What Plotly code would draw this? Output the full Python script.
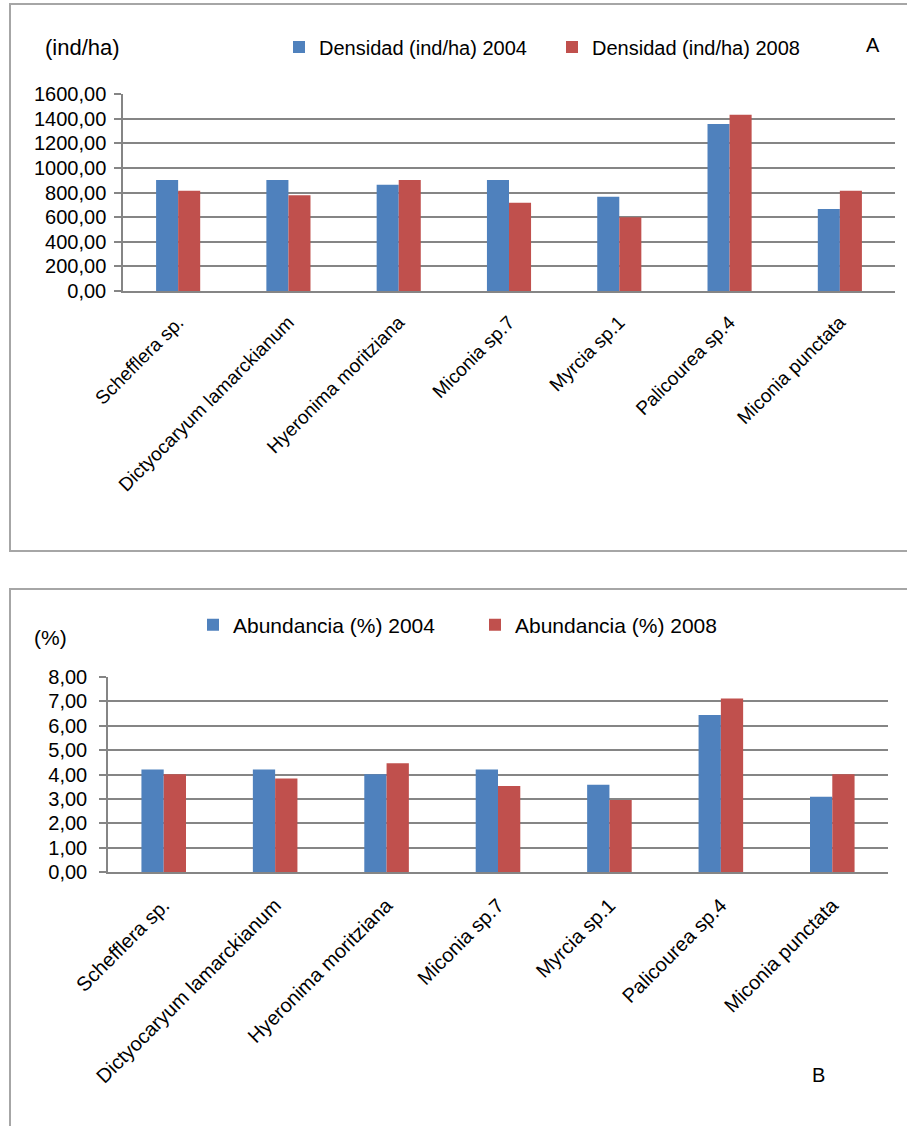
import plotly.graph_objects as go

species = ["Schefflera sp.", "Dictyocaryum lamarckianum", "Hyeronima moritziana",
           "Miconia sp.7", "Myrcia sp.1", "Palicourea sp.4", "Miconia punctata"]
dens_2004 = [901, 901, 863, 901, 766, 1356, 666]
dens_2008 = [815, 777, 901, 717, 598, 1432, 815]
abund_2004 = [4.21, 4.21, 4.01, 4.21, 3.58, 6.44, 3.09]
abund_2008 = [4.01, 3.84, 4.46, 3.53, 2.95, 7.12, 4.01]

BLUE = "#4F81BD"
RED = "#C0504D"
GRID = "#858585"
FONT = "Liberation Sans"
TXT = "#000000"
W, H = 907, 1126

def px_x(x):
    return x / W

def px_y(y):
    return 1 - y / H

fig = go.Figure()
fig.add_trace(go.Bar(x=species, y=dens_2004, name="Densidad (ind/ha) 2004",
                     marker=dict(color=BLUE, line=dict(width=0)), xaxis="x", yaxis="y", legend="legend"))
fig.add_trace(go.Bar(x=species, y=dens_2008, name="Densidad (ind/ha) 2008",
                     marker=dict(color=RED, line=dict(width=0)), xaxis="x", yaxis="y", legend="legend"))
fig.add_trace(go.Bar(x=species, y=abund_2004, name="Abundancia (%) 2004",
                     marker=dict(color=BLUE, line=dict(width=0)), xaxis="x2", yaxis="y2", legend="legend2"))
fig.add_trace(go.Bar(x=species, y=abund_2008, name="Abundancia (%) 2008",
                     marker=dict(color=RED, line=dict(width=0)), xaxis="x2", yaxis="y2", legend="legend2"))

common_y = dict(showgrid=True, gridcolor=GRID, gridwidth=1.5, showline=True, linecolor=GRID,
                linewidth=1.5, ticks="outside", ticklen=7, tickcolor=GRID, tickwidth=1.5,
                tickformat=".2f", automargin=False, zeroline=False,
                tickfont=dict(family=FONT, size=20, color=TXT))
common_x = dict(showline=True, linecolor=GRID, linewidth=1.5, ticks="", automargin=False,
                tickangle=-45, type="category")

fig.update_layout(
    width=W, height=H,
    margin=dict(l=0, r=0, t=0, b=0),
    template="none",
    paper_bgcolor="white", plot_bgcolor="white",
    separators=", ",
    barmode="group", bargap=0.6, bargroupgap=0,
    font=dict(family=FONT, color=TXT),
    xaxis=dict(domain=[px_x(123), px_x(895)], anchor="y",
               tickfont=dict(family=FONT, size=19, color=TXT),
               ticklabelstandoff=11, **common_x),
    yaxis=dict(domain=[px_y(291), px_y(94)], anchor="x", range=[0, 1600], dtick=200,
               ticklabelstandoff=4, **common_y),
    xaxis2=dict(domain=[px_x(108), px_x(888)], anchor="y2",
                tickfont=dict(family=FONT, size=20, color=TXT),
                ticklabelstandoff=12, **common_x),
    yaxis2=dict(domain=[px_y(872), px_y(677)], anchor="x2", range=[0, 8], dtick=1,
                ticklabelstandoff=8, **common_y),
    legend=dict(orientation="h", x=px_x(279), xanchor="left", y=px_y(47), yanchor="middle",
                entrywidth=228, entrywidthmode="pixels", itemwidth=30,
                font=dict(family=FONT, size=20, color=TXT), bgcolor="rgba(0,0,0,0)"),
    legend2=dict(orientation="h", x=px_x(193), xanchor="left", y=px_y(625), yanchor="middle",
                 entrywidth=237, entrywidthmode="pixels", itemwidth=30,
                 font=dict(family=FONT, size=21, color=TXT), bgcolor="rgba(0,0,0,0)"),
    shapes=[
        dict(type="rect", xref="paper", yref="paper", x0=px_x(10), x1=1.02, y0=px_y(551), y1=px_y(4),
             line=dict(color="#a6a6a6", width=2), fillcolor="rgba(0,0,0,0)", layer="below"),
        dict(type="rect", xref="paper", yref="paper", x0=px_x(10), x1=1.02, y0=-0.02, y1=px_y(589),
             line=dict(color="#a6a6a6", width=2), fillcolor="rgba(0,0,0,0)", layer="below"),
    ],
    annotations=[
        dict(text="(ind/ha)", xref="paper", yref="paper", x=px_x(82), y=px_y(47), showarrow=False,
             xanchor="center", yanchor="middle", font=dict(family=FONT, size=22, color=TXT)),
        dict(text="A", xref="paper", yref="paper", x=px_x(873), y=px_y(45), showarrow=False,
             xanchor="center", yanchor="middle", font=dict(family=FONT, size=20, color=TXT)),
        dict(text="(%)", xref="paper", yref="paper", x=px_x(50), y=px_y(637), showarrow=False,
             xanchor="center", yanchor="middle", font=dict(family=FONT, size=21, color=TXT)),
        dict(text="B", xref="paper", yref="paper", x=px_x(818), y=px_y(1075), showarrow=False,
             xanchor="center", yanchor="middle", font=dict(family=FONT, size=20, color=TXT)),
    ],
)

fig.write_html("out.html")
